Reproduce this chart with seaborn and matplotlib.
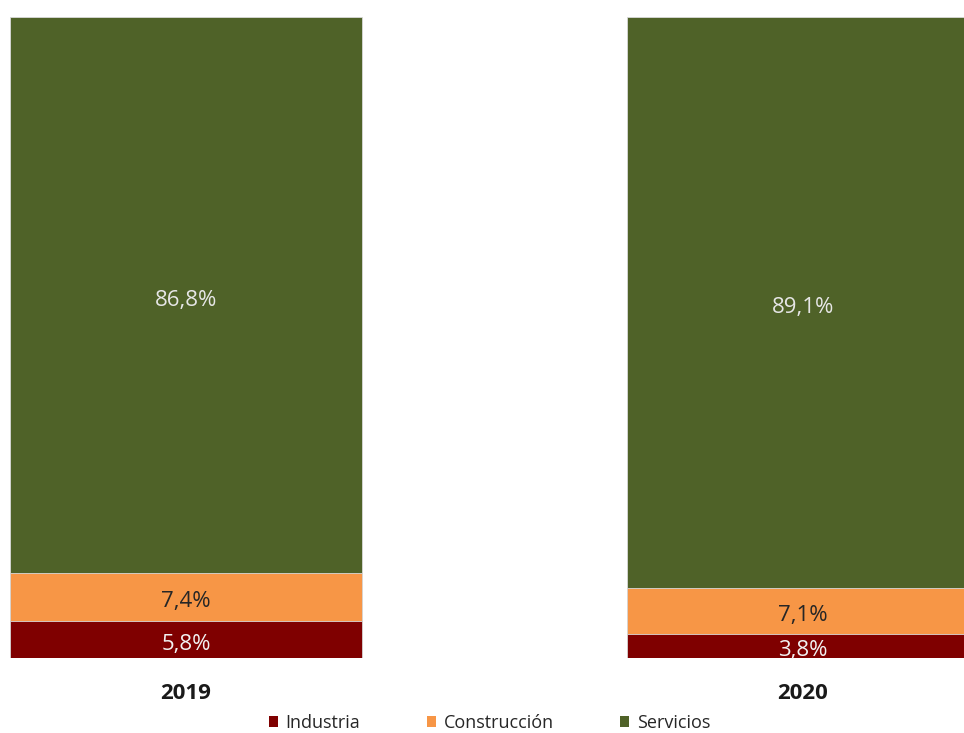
import matplotlib
matplotlib.use("Agg")
import matplotlib.pyplot as plt
import numpy as np
import pandas as pd
import seaborn as sns
from matplotlib.patches import Patch

YEARS = ["2019", "2020"]
SECTORS = ["Industria", "Construcción", "Servicios"]
INDUSTRIA = [5.8, 3.8]
CONSTRUCCION = [7.4, 7.1]
SERVICIOS = [86.8, 89.1]

COLORS = {"Industria": "#7F0000", "Construcción": "#F79646", "Servicios": "#4F6228"}
TEXT_COLORS = {"Industria": "#F2F2F2", "Construcción": "#262626", "Servicios": "#E6E6E6"}

sns.set_theme(style="white")
plt.rcParams["font.family"] = ["Open Sans", "DejaVu Sans"]


def main() -> None:
    df = pd.DataFrame(
        {"year": YEARS, "Industria": INDUSTRIA, "Construcción": CONSTRUCCION, "Servicios": SERVICIOS}
    )
    cum = df[SECTORS].cumsum(axis=1)

    fig = plt.figure(figsize=(9.64, 7.33), dpi=100)
    ax = fig.add_axes([0, 75 / 733, 1, 641 / 733])

    # draw from top segment down so lower segments sit on top
    for sector in reversed(SECTORS):
        sns.barplot(
            x=df["year"], y=cum[sector], color=COLORS[sector], width=0.5705,
            saturation=1, edgecolor="#d9d9d9", linewidth=0.6, ax=ax,
        )

    for i in range(len(YEARS)):
        for sector in SECTORS:
            val = df.loc[i, sector]
            mid = cum.loc[i, sector] - val / 2
            ax.annotate(f"{val:.1f}%".replace(".", ","), xy=(i, mid), xytext=(0, -3.5),
                        textcoords="offset points", ha="center", va="center",
                        fontsize=16, color=TEXT_COLORS[sector])

    ax.set_xlim(-0.3015, 1.261)
    ax.set_ylim(0, 100)
    ax.set_xlabel("")
    ax.set_ylabel("")
    ax.set_yticks([])
    ax.tick_params(axis="x", length=0, pad=18)
    for lbl in ax.get_xticklabels():
        lbl.set_fontweight("bold")
        lbl.set_fontsize(16)
        lbl.set_color("#1a1a1a")
    sns.despine(ax=ax, left=True, bottom=True)

    handles = [Patch(facecolor=COLORS[s], edgecolor="none") for s in SECTORS]
    fig.legend(handles, SECTORS, loc="center", bbox_to_anchor=(0.508, 10 / 733), ncol=3,
               frameon=False, fontsize=13, handlelength=0.5, handleheight=0.5,
               handletextpad=0.4, columnspacing=3.7, labelcolor="#262626")

    fig.savefig("out.png", dpi=100)
    plt.close(fig)


if __name__ == "__main__":
    main()
